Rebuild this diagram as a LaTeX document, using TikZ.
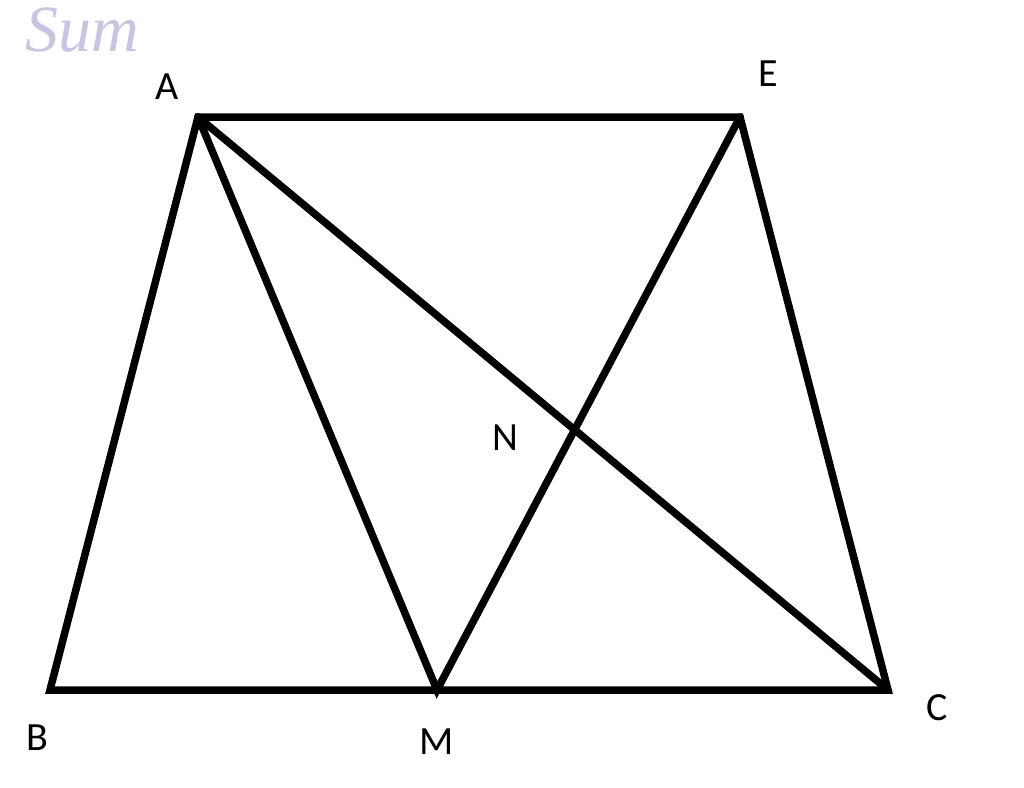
\documentclass[tikz,border=0pt]{standalone}
\usepackage{fontspec}
\setmainfont{Carlito}
\newfontfamily\sumfont{Liberation Serif}
\definecolor{wm}{HTML}{C9C3E6}
\begin{document}
\begin{tikzpicture}[x=1pt,y=-1pt,
  seg/.style={line width=7.5pt,line cap=round,line join=miter},
  lbl/.style={font=\fontsize{40}{46}\selectfont,inner sep=0pt}]
\useasboundingbox[fill=white] (0,0) rectangle (1024,787);
\coordinate (A) at (198,117);
\coordinate (E) at (740,117);
\coordinate (B) at (50,690);
\coordinate (M) at (437,690);
\coordinate (C) at (888,690);
\draw[seg] (B) -- (A) -- (E) -- (C) -- cycle;
\draw[seg] (A) -- (M) -- (E);
\draw[seg] (A) -- (C);
\node[lbl] (lA) at (167,87) {A};
\node[lbl] (lE) at (768,74) {E};
\node[lbl] (lB) at (37,738) {B};
\node[lbl] (lM) at (437,742) {M};
\node[lbl] (lC) at (937,708) {C};
\node[lbl] (lN) at (505,438) {N};
\node[inner sep=0pt,text=wm,font=\sumfont\itshape\fontsize{66}{66}\selectfont] (sum) at (82,30) {Sum};
\end{tikzpicture}
\end{document}
